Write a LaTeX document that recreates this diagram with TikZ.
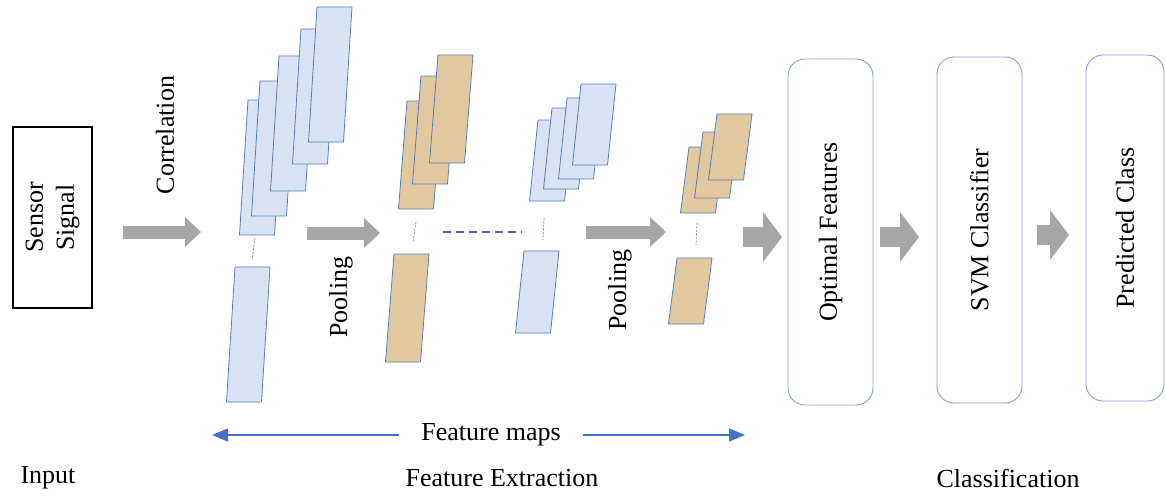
\documentclass[tikz,border=0pt]{standalone}
\usepackage{fontspec}
\setmainfont{Liberation Serif}
\usetikzlibrary{arrows.meta}
\definecolor{mapblue}{RGB}{218,227,243}
\definecolor{maptan}{RGB}{226,201,160}
\definecolor{mapedge}{RGB}{84,126,190}
\definecolor{arrgray}{RGB}{166,166,166}
\definecolor{boxedge}{RGB}{130,160,210}
\definecolor{linkblue}{RGB}{68,114,196}
\definecolor{dashpurple}{RGB}{112,80,176}
% one slanted feature map: top-left x, y, height, fill
\newcommand{\fmap}[4]{\draw[fmap, fill=#4] (#1,#2) -- ++(35,0) -- ++(-8.5,#3) -- ++(-35,0) -- cycle;}

\begin{document}
\begin{tikzpicture}[x=1pt, y=-1pt, every node/.style={font=\fontsize{26}{31}\selectfont},
  fmap/.style={draw=mapedge, line width=0.8pt, line join=round},
  gap/.style={draw=gray, line width=0.7pt, dash pattern=on 2pt off 1.5pt},
  blkarr/.style={draw=arrgray, line width=13pt, -{Triangle[length=16pt, width=30pt, line width=0pt]}},
  bigarr/.style={draw=arrgray, line width=20pt, -{Triangle[length=19pt, width=50pt, line width=0pt]}},
  stage/.style={draw=boxedge, line width=0.9pt, rounded corners=17pt, rotate=90, minimum width=346pt, minimum height=85pt},
  maparr/.style={draw=linkblue, line width=1.4pt, -{Triangle[length=16pt, width=13pt]}}]
\useasboundingbox (0,0) rectangle (1166,495);

% feature maps after correlation
\fmap{248}{100}{135}{mapblue} \fmap{260}{81}{135}{mapblue} \fmap{279}{56}{135}{mapblue}
\fmap{301}{29}{135}{mapblue} \fmap{317}{7}{135}{mapblue}
\fmap{235}{267}{135}{mapblue}
\draw[gap] (255,238) -- (252,260);
% first pooling
\fmap{407}{101}{108}{maptan} \fmap{421}{76}{108}{maptan} \fmap{438}{55}{108}{maptan}
\fmap{394}{254}{108}{maptan}
\draw[gap] (416,222) -- (413,242);
\draw[dashpurple, line width=1.5pt, dash pattern=on 8pt off 5pt] (443,232) -- (522,232);
% deeper maps
\fmap{538}{120}{81}{mapblue} \fmap{552}{108}{81}{mapblue} \fmap{567}{98}{81}{mapblue}
\fmap{581}{84}{81}{mapblue}
\fmap{524}{251}{82}{mapblue}
\draw[gap] (544,218) -- (543,240);
% last pooling
\fmap{689}{147}{66}{maptan} \fmap{703}{132}{66}{maptan} \fmap{717}{114}{66}{maptan}
\fmap{677}{258}{66}{maptan}
\draw[gap] (697,223) -- (696,245);

\node[draw, line width=1.2pt, rotate=90, minimum width=181pt, minimum height=79pt, align=center] (sensor) at (52.5,217.5) {Sensor\\Signal};
\node[rotate=90] (corr) at (165,135) {Correlation};
\node[rotate=90] (pool1) at (341,297) {Pooling};
\node[rotate=90] (pool2) at (620,290) {Pooling};
\node[stage] (optf) at (830.5,232) {Optimal Features};
\node[stage] (svm) at (979.5,230) {SVM Classifier};
\node[stage, minimum height=78pt] (pred) at (1125,228) {Predicted Class};

\coordinate (a1s) at (123,232); \coordinate (a1e) at (201,232);
\coordinate (a2s) at (307,233); \coordinate (a2e) at (380,233);
\coordinate (a3s) at (586,232); \coordinate (a3e) at (666,232);
\coordinate (a4s) at (743,237); \coordinate (a4e) at (782,237);
\coordinate (a5s) at (880,237); \coordinate (a5e) at (919,237);
\coordinate (a6s) at (1037,235); \coordinate (a6e) at (1069,235);
\draw[blkarr] (a1s) -- (a1e); \draw[blkarr] (a2s) -- (a2e); \draw[blkarr] (a3s) -- (a3e);
\draw[bigarr] (a4s) -- (a4e); \draw[bigarr] (a5s) -- (a5e); \draw[bigarr] (a6s) -- (a6e);

\node[inner xsep=22pt] (fmaps) at (491,435) {Feature maps};
\coordinate (fmL) at (212,435); \coordinate (fmR) at (745,435);
\draw[maparr] (fmaps.west) -- (fmL); \draw[maparr] (fmaps.east) -- (fmR);

\node (input) at (48,478) {Input};
\node (extract) at (502,478) {Feature Extraction};
\node (classif) at (1008,478) {Classification};
\end{tikzpicture}
\end{document}
